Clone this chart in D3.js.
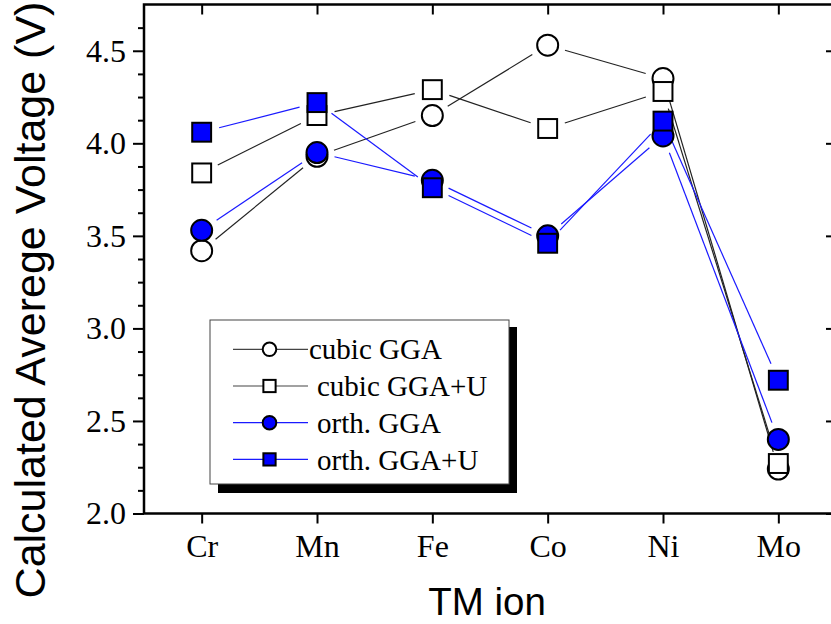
<!DOCTYPE html>
<html>
<head>
<meta charset="utf-8">
<script src="https://cdn.jsdelivr.net/npm/d3@7"></script>
<style>
    body { margin: 0; background: #fff; }
    svg { display: block; }
    .serif { font-family: "Liberation Serif", "Times New Roman", serif; }
    .sans { font-family: "Liberation Sans", Arial, sans-serif; }
</style>
</head>
<body>
<svg id="chart" width="831" height="624"></svg>
<script>
// values
var categories = ['Cr', 'Mn', 'Fe', 'Co', 'Ni', 'Mo'];
var cubicGGA = [3.42, 3.93, 4.15, 4.53, 4.35, 2.24];
var cubicGGAU = [3.84, 4.15, 4.29, 4.08, 4.28, 2.27];
var orthGGA = [3.53, 3.95, 3.80, 3.50, 4.04, 2.40];
var orthGGAU = [4.06, 4.22, 3.76, 3.46, 4.12, 2.72];
var yMajorTicks = [2.0, 2.5, 3.0, 3.5, 4.0, 4.5];
var yMinorTicks = [2.125, 2.25, 2.375, 2.625, 2.75, 2.875, 3.125, 3.25, 3.375,
    3.625, 3.75, 3.875, 4.125, 4.25, 4.375, 4.625];
var seriesNames = ['cubic GGA', 'cubic GGA+U', 'orth. GGA', 'orth. GGA+U'];

var series = [
    {name: seriesNames[0], values: cubicGGA, shape: 'circle', fill: '#fff', line: '#222'},
    {name: seriesNames[1], values: cubicGGAU, shape: 'square', fill: '#fff', line: '#222'},
    {name: seriesNames[2], values: orthGGA, shape: 'circle', fill: '#0000ff', line: '#1a1aff'},
    {name: seriesNames[3], values: orthGGAU, shape: 'square', fill: '#0000ff', line: '#1a1aff'}
];

var frame = {left: 144, right: 836, top: 4.5, bottom: 513.5};
var gap = 18;

var svg = d3.select('svg#chart');

var x = d3.scalePoint()
    .domain(categories)
    .range([frame.left, frame.right])
    .padding(0.5);

var y = d3.scaleLinear()
    .domain([2.0, 4.75])
    .range([frame.bottom, frame.top]);

// axes
var gLeft = svg.append('g')
    .attr('transform', 'translate(' + frame.left + ',0)');
gLeft.append('g').call(d3.axisLeft(y).tickValues(yMinorTicks).tickSize(6).tickFormat(''));
gLeft.append('g').call(d3.axisLeft(y).tickValues(yMajorTicks).tickSize(11).tickPadding(7)
    .tickFormat(d3.format('.1f')));

var gRight = svg.append('g')
    .attr('transform', 'translate(' + frame.right + ',0)');
gRight.append('g').call(d3.axisRight(y).tickValues(yMinorTicks).tickSize(-5).tickFormat(''));
gRight.append('g').call(d3.axisRight(y).tickValues(yMajorTicks).tickSize(-10).tickFormat(''));

svg.append('g')
    .attr('transform', 'translate(0,' + frame.bottom + ')')
    .call(d3.axisBottom(x).tickSize(10).tickPadding(11));

svg.append('g')
    .attr('transform', 'translate(0,' + frame.top + ')')
    .call(d3.axisTop(x).tickSize(-10).tickFormat(''));

svg.selectAll('.domain').remove();
svg.selectAll('.tick line')
    .attr('stroke', '#000')
    .attr('stroke-width', 2);
svg.selectAll('.tick text')
    .attr('class', 'serif')
    .attr('font-size', 32)
    .attr('fill', '#000');

svg.append('rect')
    .attr('x', frame.left)
    .attr('y', frame.top)
    .attr('width', frame.right - frame.left)
    .attr('height', frame.bottom - frame.top)
    .attr('fill', 'none')
    .attr('stroke', '#000')
    .attr('stroke-width', 2.5);

// lines leave a gap around each marker
function segments(values) {
    var segs = [];
    for (var i = 0; i < values.length - 1; i++) {
        var x0 = x(categories[i]), y0 = y(values[i]);
        var x1 = x(categories[i + 1]), y1 = y(values[i + 1]);
        var len = Math.hypot(x1 - x0, y1 - y0);
        var ux = (x1 - x0) / len, uy = (y1 - y0) / len;
        segs.push({x1: x0 + ux * gap, y1: y0 + uy * gap, x2: x1 - ux * gap, y2: y1 - uy * gap});
    }
    return segs;
}

function drawMarker(g, shape, fill, size) {
    if (shape === 'circle') {
        g.append('circle')
            .attr('r', size)
            .attr('fill', fill)
            .attr('stroke', '#000')
            .attr('stroke-width', 2);
    } else {
        g.append('rect')
            .attr('x', -size * 0.9)
            .attr('y', -size * 0.9)
            .attr('width', size * 1.8)
            .attr('height', size * 1.8)
            .attr('fill', fill)
            .attr('stroke', '#000')
            .attr('stroke-width', 2);
    }
}

var plot = svg.append('g');

series.forEach(function(s) {
    plot.append('g')
        .selectAll('line')
        .data(segments(s.values))
        .enter()
        .append('line')
        .attr('x1', d => d.x1)
        .attr('y1', d => d.y1)
        .attr('x2', d => d.x2)
        .attr('y2', d => d.y2)
        .attr('stroke', s.line)
        .attr('stroke-width', 1.2);
});

series.forEach(function(s) {
    plot.append('g')
        .selectAll('g')
        .data(s.values)
        .enter()
        .append('g')
        .attr('transform', (d, i) => 'translate(' + x(categories[i]) + ',' + y(d) + ')')
        .each(function() {
            drawMarker(d3.select(this), s.shape, s.fill, 10.5);
        });
});

// legend
var legend = svg.append('g');

legend.append('rect')
    .attr('x', 218)
    .attr('y', 327)
    .attr('width', 299)
    .attr('height', 166)
    .attr('fill', '#000');

legend.append('rect')
    .attr('x', 210)
    .attr('y', 320)
    .attr('width', 299)
    .attr('height', 164)
    .attr('fill', '#fff')
    .attr('stroke', '#444')
    .attr('stroke-width', 1);

var entry = legend.selectAll('g.entry')
    .data(series)
    .enter()
    .append('g')
    .attr('class', 'entry')
    .attr('transform', (d, i) => 'translate(0,' + (349.3 + i * 36.7) + ')');

entry.append('line')
    .attr('x1', 233)
    .attr('x2', 308)
    .attr('stroke', d => d.fill === '#fff' ? '#444' : '#1a1aff')
    .attr('stroke-width', 1.2);

entry.each(function(d) {
    var g = d3.select(this).append('g').attr('transform', 'translate(269.5,0)');
    drawMarker(g, d.shape, d.fill, 6.8);
});

entry.append('text')
    .attr('class', 'serif')
    .attr('x', (d, i) => i === 0 ? 309 : 317)
    .attr('dy', '0.35em')
    .attr('font-size', 29)
    .text(d => d.name);

// axis titles
svg.append('text')
    .attr('class', 'sans')
    .attr('transform', 'translate(45,300) rotate(-90)')
    .attr('text-anchor', 'middle')
    .attr('font-size', 43)
    .text('Calculated Averege Voltage (V)');

svg.append('text')
    .attr('class', 'sans')
    .attr('x', 487)
    .attr('y', 615)
    .attr('text-anchor', 'middle')
    .attr('font-size', 38.5)
    .text('TM ion');
</script>
</body>
</html>
